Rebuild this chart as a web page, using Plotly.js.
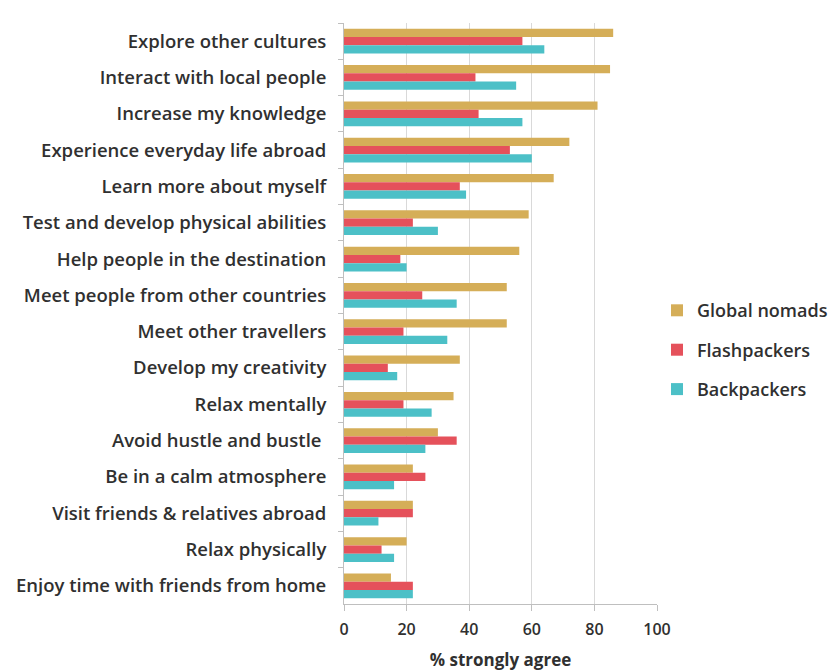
<!DOCTYPE html>
<html>
<head>
<meta charset="utf-8">
<script src="https://cdn.plot.ly/plotly-3.0.1.min.js"></script>
<style>html,body{margin:0;padding:0;background:#fff;}#chart{width:833px;height:671px;}</style>
</head>
<body>
<div id="chart"></div>
<script>
const categories = [
  "Explore other cultures",
  "Interact with local people",
  "Increase my knowledge",
  "Experience everyday life abroad",
  "Learn more about myself",
  "Test and develop physical abilities",
  "Help people in the destination",
  "Meet people from other countries",
  "Meet other travellers",
  "Develop my creativity",
  "Relax mentally",
  "Avoid hustle and bustle ",
  "Be in a calm atmosphere",
  "Visit friends & relatives abroad",
  "Relax physically",
  "Enjoy time with friends from home"
];
const globalNomads = [86, 85, 81, 72, 67, 59, 56, 52, 52, 37, 35, 30, 22, 22, 20, 15];
const flashpackers = [57, 42, 43, 53, 37, 22, 18, 25, 19, 14, 19, 36, 26, 22, 12, 22];
const backpackers  = [64, 55, 57, 60, 39, 30, 20, 36, 33, 17, 28, 26, 16, 11, 16, 22];
const xTicks = [0, 20, 40, 60, 80, 100];

const font = "Open Sans, Lato, sans-serif";
const textColor = "#303030";
const traces = [
  {name: "Global nomads", x: globalNomads, y: categories, color: "#D5AE58"},
  {name: "Flashpackers", x: flashpackers, y: categories, color: "#E5515B"},
  {name: "Backpackers", x: backpackers, y: categories, color: "#4CC0C7"}
].map(t => ({
  type: "bar", orientation: "h", name: t.name, legendgroup: t.name, x: t.x, y: t.y,
  marker: {color: t.color}, hoverinfo: "x+y"
}));

const layout = {
  width: 833, height: 671,
  margin: {l: 344, r: 176, t: 23, b: 67, autoexpand: false},
  paper_bgcolor: "#fff", plot_bgcolor: "#fff",
  barmode: "group", bargap: 0.32, bargroupgap: 0,
  font: {family: font, color: textColor, size: 16, weight: 600},
  showlegend: true,
  legend: {
    x: 1.0, xanchor: "left", y: 0.437, yanchor: "middle",
    traceorder: "grouped", font: {size: 18, color: textColor, weight: 600},
    itemwidth: 30, tracegroupgap: 13
  },
  xaxis: {
    range: [0, 100], tickvals: xTicks, ticktext: xTicks.map(String),
    showgrid: true, gridcolor: "#d9d9d9", gridwidth: 1,
    zeroline: false, showline: true, linecolor: "#bfbfbf", linewidth: 1,
    ticks: "outside", ticklen: 6, tickcolor: "#bfbfbf",
    tickfont: {size: 16, color: textColor, weight: 600}, ticklabelstandoff: 5,
    title: {text: "<b>% strongly agree</b>", font: {size: 17, color: textColor}, standoff: 15}
  },
  yaxis: {
    type: "category", categoryorder: "array", categoryarray: categories,
    autorange: "reversed",
    showgrid: false, zeroline: false,
    showline: true, linecolor: "#bfbfbf", linewidth: 1,
    ticks: "outside", ticklen: 5, tickcolor: "#bfbfbf", tickson: "boundaries",
    tickfont: {size: 18.5, color: textColor, weight: 600}, ticklabelstandoff: 13
  }
};

Plotly.newPlot("chart", traces, layout, {displayModeBar: false, staticPlot: true});
</script>
</body>
</html>
